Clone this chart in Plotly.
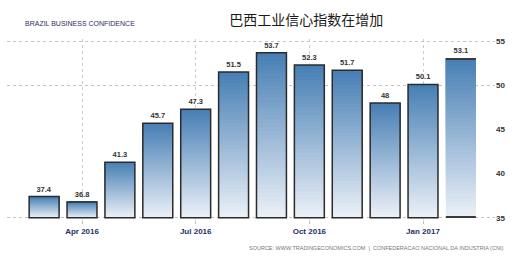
import plotly.graph_objects as go

months = ["Mar 2016", "Apr 2016", "May 2016", "Jun 2016", "Jul 2016", "Aug 2016",
          "Sep 2016", "Oct 2016", "Nov 2016", "Dec 2016", "Jan 2017", "Feb 2017"]
values = [37.4, 36.8, 41.3, 45.7, 47.3, 51.5, 53.7, 52.3, 51.7, 48.0, 50.1, 53.1]
labels = ["37.4", "36.8", "41.3", "45.7", "47.3", "51.5", "53.7", "52.3", "51.7", "48", "50.1", "53.1"]
x_ticks = ["Apr 2016", "Jul 2016", "Oct 2016", "Jan 2017"]
y_ticks = [35, 40, 45, 50, 55]
y_grid = [35, 50, 55]

BASE = 35
N = 40
top_rgb = (70, 126, 180)
bot_rgb = (236, 241, 248)
W = 0.79
YR = [34.75, 55.25]

fig = go.Figure()

# gradient fill: each slice runs from its start up to the bar top, later slices cover earlier ones
for i in range(N):
    f = (i + 0.5) / N
    c = tuple(round(bot_rgb[k] + (top_rgb[k] - bot_rgb[k]) * f) for k in range(3))
    fig.add_trace(go.Bar(
        x=months,
        base=[BASE + (v - BASE) * i / N for v in values],
        y=[(v - BASE) * (N - i) / N for v in values],
        width=W,
        marker=dict(color="rgb(%d,%d,%d)" % c, line=dict(width=0)),
        hoverinfo="skip", showlegend=False,
    ))

# outlines + value labels
fig.add_trace(go.Bar(
    x=months, base=[BASE] * len(values), y=[v - BASE for v in values], width=W,
    marker=dict(color="rgba(0,0,0,0)",
                line=dict(color="#2b2b2b", width=[1.5] * (len(values) - 1) + [0])),
    text=labels, textposition="outside", cliponaxis=False,
    textfont=dict(family="Liberation Sans", size=7.5, color="#333333", weight="bold"),
    showlegend=False, hoverinfo="skip",
))

# last bar: only top and bottom edges
fig.add_trace(go.Bar(
    x=[months[-1]], base=[values[-1] - 0.17], y=[0.17], width=W,
    marker=dict(color="#3a3a3a", line=dict(width=0)), showlegend=False, hoverinfo="skip"))
fig.add_trace(go.Bar(
    x=[months[-1]], base=[BASE], y=[0.17], width=W,
    marker=dict(color="#3a3a3a", line=dict(width=0)), showlegend=False, hoverinfo="skip"))

# invisible trace to activate overlay grid axis
fig.add_trace(go.Scatter(x=[months[0]], y=[BASE], yaxis="y2", mode="markers",
                         marker=dict(opacity=0), showlegend=False, hoverinfo="skip"))

fig.update_layout(
    width=530, height=269,
    margin=dict(l=7, r=35, t=39, b=49),
    paper_bgcolor="white", plot_bgcolor="white",
    barmode="overlay",
    font=dict(family="Liberation Sans", size=8, color="#333333"),
    title=dict(text="巴西工业信心指数在增加", x=0.578, xanchor="center", y=0.925, yanchor="middle",
               font=dict(family="Noto Sans CJK SC", size=14, color="#1a1a1a")),
    xaxis=dict(type="category", categoryorder="array", categoryarray=months,
               range=[-0.98, 11.9], tickmode="array", tickvals=x_ticks, ticktext=x_ticks,
               showgrid=True, gridcolor="#cccccc", griddash="dot", gridwidth=1,
               ticks="outside", ticklen=3, tickcolor="#bbbbbb",
               tickfont=dict(family="Liberation Sans", size=8, color="#27306a", weight="bold"),
               showline=False, zeroline=False),
    yaxis=dict(range=YR, side="right", tickvals=y_ticks, showgrid=False,
               zeroline=False, showline=False, ticks="",
               tickfont=dict(family="Liberation Sans", size=8, color="#333333", weight="bold")),
    yaxis2=dict(range=YR, overlaying="y", side="right", tickvals=y_grid,
                showticklabels=False, showgrid=True, gridcolor="#c4c4c4", griddash="dot",
                gridwidth=1, zeroline=False, showline=False),
    annotations=[
        dict(text="BRAZIL BUSINESS CONFIDENCE", xref="paper", yref="paper",
             x=0.033, y=1.088, xanchor="left", yanchor="middle", showarrow=False,
             font=dict(family="Liberation Sans", size=7, color="#2d2d5f")),
        dict(text="SOURCE: WWW.TRADINGECONOMICS.COM  |  CONFEDERACAO NACIONAL DA INDUSTRIA (CNI)",
             xref="paper", yref="paper", x=1.02, y=-0.155, xanchor="right", yanchor="middle",
             showarrow=False, font=dict(family="Liberation Sans", size=5.5, color="#777777")),
    ],
)

fig.write_html("out.html")
